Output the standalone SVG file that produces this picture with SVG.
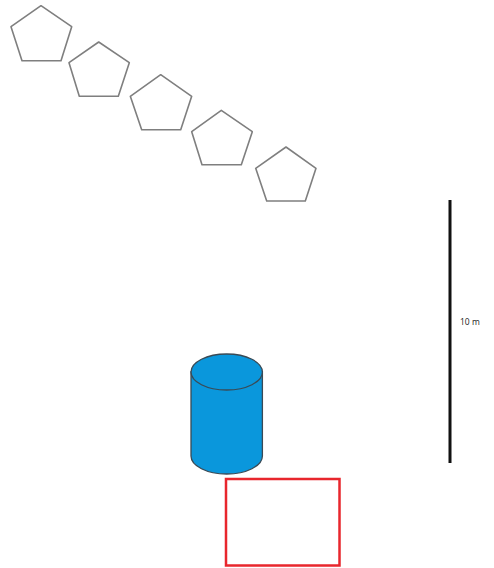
<svg xmlns="http://www.w3.org/2000/svg" width="494" height="568" viewBox="0 0 494 568">
<style>
.pent{fill:#fff;stroke:#7f7f7f;stroke-width:1.6;stroke-linejoin:round}
.cyl{fill:#0a97dc;stroke:#3a4a55;stroke-width:1.3}
.lbl{font-family:"Open Sans","Liberation Sans",sans-serif;font-size:8.5px;fill:#222}
</style>
<rect width="494" height="568" fill="#fff"/>
<g id="pentagon1"><polygon class="pent" points="41,5.7 71.7,26.7 61,60.7 22,60.7 11,26.7"/></g>
<g id="pentagon2"><polygon class="pent" points="98.7,42 129.3,62.7 118.3,96.3 79.3,96.3 69,62.7"/></g>
<g id="pentagon3"><polygon class="pent" points="160.7,74.7 191.7,96.3 180.7,129.7 141.7,129.7 130.3,96.3"/></g>
<g id="pentagon4"><polygon class="pent" points="221.3,110.3 252.3,131.7 241.3,164.7 202,164.7 191.7,131.7"/></g>
<g id="pentagon5"><polygon class="pent" points="286,147 316,168.3 305.3,201 266.7,201 255.7,168.3"/></g>
<g id="cylinder">
<path class="cyl" d="M191,372 L191,456 A35.7,18 0 0 0 262.4,456 L262.4,372 Z"/>
<ellipse class="cyl" cx="226.7" cy="372" rx="35.7" ry="18"/>
</g>
<g id="box"><rect x="226" y="479" width="113.5" height="86.5" fill="none" stroke="#e8262d" stroke-width="2.5"/></g>
<g id="scale">
<line x1="450" y1="200" x2="450" y2="463" stroke="#111" stroke-width="3"/>
<text class="lbl" x="460" y="325">10 m</text>
</g>
</svg>
